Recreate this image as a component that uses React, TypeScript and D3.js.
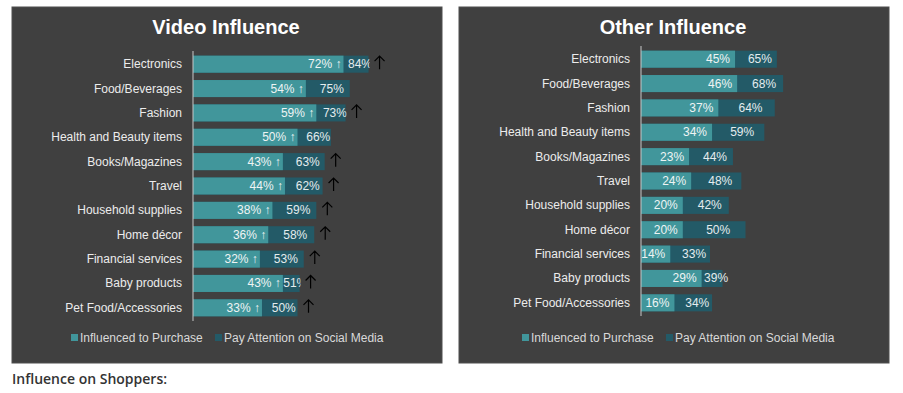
import React, { useEffect } from 'react';
import * as d3 from 'd3';

const categories = [
  'Electronics',
  'Food/Beverages',
  'Fashion',
  'Health and Beauty items',
  'Books/Magazines',
  'Travel',
  'Household supplies',
  'Home décor',
  'Financial services',
  'Baby products',
  'Pet Food/Accessories',
];

const videoPurchase = [72, 54, 59, 50, 43, 44, 38, 36, 32, 43, 33];
const videoAttention = [84, 75, 73, 66, 63, 62, 59, 58, 53, 51, 50];
const videoRising = [true, false, true, false, true, true, true, true, true, true, true];

const otherPurchase = [45, 46, 37, 34, 23, 24, 20, 20, 14, 29, 16];
const otherAttention = [65, 68, 64, 59, 44, 48, 42, 50, 33, 39, 34];

const seriesNames = ['Influenced to Purchase', 'Pay Attention on Social Media'];

const LIGHT = '#41969b';
const DARK = '#235a67';
const PANEL = '#404040';
const FONT = '"Liberation Sans", Arial, Helvetica, sans-serif';

interface PanelProps {
  id: string;
  x0: number;
  title: string;
  purchase: number[];
  attention: number[];
  rising?: boolean[];
  axisX: number;
  yTop: number;
  yBottom: number;
  legendX: number[];
}

const Panel: React.FC<PanelProps> = ({ id, x0, title, purchase, attention, rising, axisX, yTop, yBottom, legendX }) => {
  const x = d3.scaleLinear().domain([0, 100]).range([axisX, axisX + 209]);
  const y = d3.scaleBand<string>().domain(categories).range([yTop, yBottom]).paddingInner(0.3).paddingOuter(0.15);
  const bh = y.bandwidth();
  const arrows = !!rising;

  return (
    <g>
      <rect x={x0} y={7} width={430} height={356} fill={PANEL} stroke="#4e4e4e" strokeWidth={1} />
      <text x={x0 + 214} y={34} textAnchor="middle" fill="#ffffff" fontSize={20} fontWeight="bold" fontFamily={FONT}>
        {title}
      </text>
      <defs>
        {categories.map((c, i) => (
          <clipPath key={c} id={`${id}-clip-${i}`}>
            <rect x={x(purchase[i])} y={y(c)!} width={x(attention[i]) - x(purchase[i]) + 1} height={bh} />
          </clipPath>
        ))}
      </defs>
      {categories.map((c, i) => {
        const top = y(c)!;
        const cy = top + bh / 2 + 4;
        const pEnd = x(purchase[i]);
        const aEnd = x(attention[i]);
        const darkMid = (pEnd + aEnd) / 2 + 4;
        const ax = aEnd + 11;
        const ay = top + bh / 2 - 2;
        return (
          <g key={c}>
            <text x={axisX - 11} y={cy} textAnchor="end" fill="#ececec" fontSize={12} fontFamily={FONT}>
              {c}
            </text>
            <rect x={x(0)} y={top} width={aEnd - x(0)} height={bh} fill={DARK} />
            <rect x={x(0)} y={top} width={pEnd - x(0)} height={bh} fill={LIGHT} />
            <text x={pEnd - (arrows ? 2 : 5)} y={cy} textAnchor="end" fill="#eef4f4" fontSize={12} fontFamily={FONT}>
              {`${purchase[i]}%${arrows ? ' ↑' : ''}`}
            </text>
            <text
              x={darkMid}
              y={cy}
              textAnchor="middle"
              fill="#e4ecee"
              fontSize={12}
              fontFamily={FONT}
              clipPath={arrows ? `url(#${id}-clip-${i})` : undefined}
            >
              {`${attention[i]}%`}
            </text>
            {rising && rising[i] && (
              <path
                d={`M${ax},${ay + 7}V${ay - 6}M${ax - 5},${ay - 1}L${ax},${ay - 6}L${ax + 5},${ay - 1}`}
                fill="none"
                stroke="#000000"
                strokeWidth={1.2}
              />
            )}
          </g>
        );
      })}
      <line x1={axisX} x2={axisX} y1={yTop - 1} y2={yBottom + 1} stroke="#c8c8c8" strokeWidth={1} />
      {seriesNames.map((s, i) => (
        <g key={s}>
          <rect x={legendX[i]} y={334} width={7} height={7} fill={i === 0 ? LIGHT : DARK} />
          <text x={legendX[i] + 9} y={342} fill="#d9d9d9" fontSize={12} fontFamily={FONT}>
            {s}
          </text>
        </g>
      ))}
    </g>
  );
};

export default function App() {
  useEffect(() => {
    document.body.style.margin = '0';
  }, []);

  return (
    <svg width={903} height={393} style={{ display: 'block', background: '#ffffff' }}>
      <Panel
        id="video"
        x0={12}
        title="Video Influence"
        purchase={videoPurchase}
        attention={videoAttention}
        rising={videoRising}
        axisX={193}
        yTop={52}
        yBottom={320}
        legendX={[71, 215]}
      />
      <Panel
        id="other"
        x0={459}
        title="Other Influence"
        purchase={otherPurchase}
        attention={otherAttention}
        axisX={641}
        yTop={47}
        yBottom={315}
        legendX={[522, 666]}
      />
      <text x={12} y={384} fill="#333333" fontSize={14} fontWeight={600} fontFamily='"Open Sans", Lato, sans-serif'>
        Influence on Shoppers:
      </text>
    </svg>
  );
}
